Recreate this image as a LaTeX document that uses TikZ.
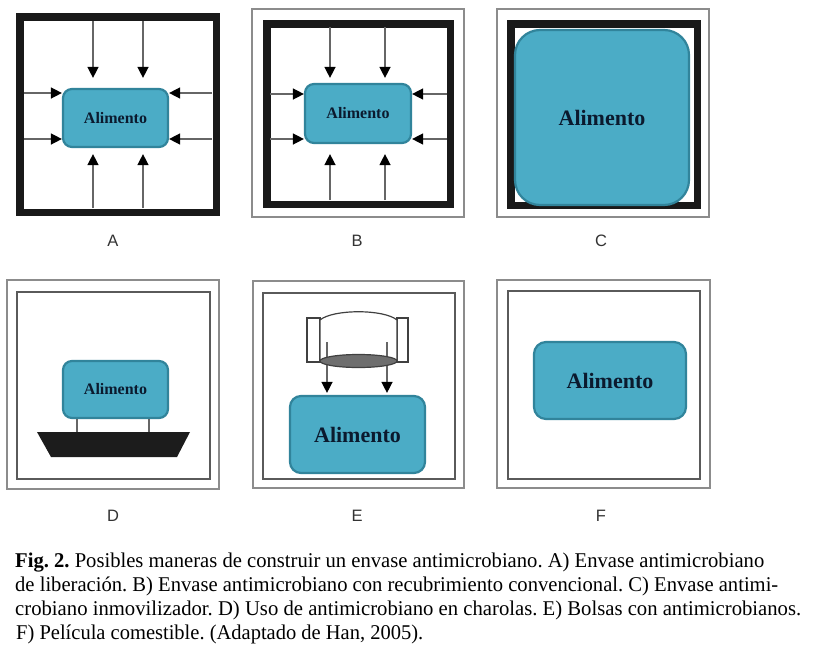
\documentclass[tikz,border=0pt]{standalone}
\usepackage{fontspec}
\setmainfont{Liberation Serif}
\newfontfamily\labelfont{Liberation Sans}
\usetikzlibrary{arrows.meta}
\definecolor{foodfill}{HTML}{4BACC6}
\definecolor{foodedge}{HTML}{31849B}
\definecolor{foodtext}{HTML}{0B1A2E}
\definecolor{outergray}{HTML}{8C8C8C}
\definecolor{innergray}{HTML}{5A5A5A}
\definecolor{traycol}{HTML}{1C1C1C}
\definecolor{arrgray}{HTML}{666666}
\definecolor{bagfill}{HTML}{6E6E6E}
\tikzset{
  foodbox/.style={draw=foodedge, fill=foodfill, line width=2.2pt, rounded corners=9pt,
    inner sep=0pt, text=foodtext, font=\bfseries\fontsize{16}{16}\selectfont},
  bigfood/.style={foodbox, font=\bfseries\fontsize{22}{22}\selectfont},
  thickframe/.style={draw=black!90, line width=7.5pt},
  outerframe/.style={draw=outergray, line width=1.6pt},
  innerframe/.style={draw=innergray, line width=1.6pt},
  arr/.style={draw=arrgray, line width=1.4pt, -{Triangle[length=11pt,width=11pt,black]}},
  panellabel/.style={font=\labelfont\fontsize{16.5}{16.5}\selectfont, text=black!80, inner sep=0pt},
  capline/.style={anchor=base west, inner sep=0pt, text=black},
  legline/.style={draw=arrgray, line width=1.4pt},
  bagline/.style={draw=black!75, line width=1.2pt},
}
\frenchspacing
\begin{document}
\begin{tikzpicture}[x=1pt,y=-1pt]
\useasboundingbox (0,0) rectangle (824,664);
\fill[white] (0,0) rectangle (824,664);

% ---------------- Panel A ----------------
\draw[thickframe] (19.75,16.75) rectangle (216.25,212.25);
\node[foodbox, minimum width=105pt, minimum height=58pt] (fa) at (115.5,118) {Alimento};
\coordinate (aT1) at (93,21);  \coordinate (aT2) at (143,21);
\coordinate (aB1) at (93,208); \coordinate (aB2) at (143,208);
\coordinate (aL1) at (24,93);  \coordinate (aL2) at (24,139);
\coordinate (aR1) at (212,93); \coordinate (aR2) at (212,139);
\draw[arr, shorten >=10pt] (aT1) -- (aT1 |- fa.north);
\draw[arr, shorten >=10pt] (aT2) -- (aT2 |- fa.north);
\draw[arr, shorten >=6pt] (aB1) -- (aB1 |- fa.south);
\draw[arr, shorten >=6pt] (aB2) -- (aB2 |- fa.south);
\draw[arr] (aL1) -- (aL1 -| fa.west);
\draw[arr] (aL2) -- (aL2 -| fa.west);
\draw[arr] (aR1) -- (aR1 -| fa.east);
\draw[arr] (aR2) -- (aR2 -| fa.east);
\node[panellabel] (la) at (113,241) {A};

% ---------------- Panel B ----------------
\draw[outerframe] (252,9) rectangle (464,217);
\draw[thickframe] (266.75,23.75) rectangle (450.25,204.25);
\node[foodbox, minimum width=106pt, minimum height=59pt] (fb) at (358,113.5) {Alimento};
\coordinate (bT1) at (330,27);  \coordinate (bT2) at (385,27);
\coordinate (bB1) at (330,200); \coordinate (bB2) at (385,200);
\coordinate (bL1) at (270,94);  \coordinate (bL2) at (270,139);
\coordinate (bR1) at (447,94);  \coordinate (bR2) at (447,139);
\draw[arr, shorten >=5pt] (bT1) -- (bT1 |- fb.north);
\draw[arr, shorten >=5pt] (bT2) -- (bT2 |- fb.north);
\draw[arr, shorten >=10pt] (bB1) -- (bB1 |- fb.south);
\draw[arr, shorten >=10pt] (bB2) -- (bB2 |- fb.south);
\draw[arr] (bL1) -- (bL1 -| fb.west);
\draw[arr] (bL2) -- (bL2 -| fb.west);
\draw[arr] (bR1) -- (bR1 -| fb.east);
\draw[arr] (bR2) -- (bR2 -| fb.east);
\node[panellabel] (lb) at (357,241) {B};

% ---------------- Panel C ----------------
\draw[outerframe] (497,9) rectangle (709,217);
\draw[thickframe] (510.75,23.75) rectangle (697.25,205.25);
\node[bigfood, rounded corners=25pt, minimum width=174pt, minimum height=175pt] (fc) at (602,117.5) {Alimento};
\node[panellabel] (lc) at (601,241) {C};

% ---------------- Panel D ----------------
\draw[outerframe] (7,280) rectangle (219,489);
\draw[innerframe] (17,292) rectangle (210,479);
\coordinate (dt1) at (37,432); \coordinate (dt2) at (190,432);
\coordinate (dt3) at (177,457); \coordinate (dt4) at (51,457);
\fill[traycol] (dt1) -- (dt2) -- (dt3) -- (dt4) -- cycle;
\node[foodbox, minimum width=105pt, minimum height=57pt] (fd) at (115.5,389.5) {Alimento};
\draw[legline] (fd.south -| 77,0) -- (77,432);
\draw[legline] (fd.south -| 149,0) -- (149,432);
\node[panellabel] (ld) at (113,516) {D};

% ---------------- Panel E ----------------
\draw[outerframe] (253,281) rectangle (464,488);
\draw[innerframe] (263,293) rectangle (455,479);
\node[bigfood, rounded corners=11pt, minimum width=135pt, minimum height=77pt] (fe) at (357.5,434.5) {Alimento};
\draw[bagline, fill=white] (307,318) rectangle (320,362);
\draw[bagline, fill=white] (397,318) rectangle (408,362);
\draw[bagline, fill=white] (320,361) -- (320,320) .. controls (333,309) and (384,309) .. (397,320) -- (397,361);
\coordinate (eA1) at (327,342); \coordinate (eA2) at (387,342);
\draw[arr, shorten >=2pt] (eA1) -- (eA1 |- fe.north);
\draw[arr, shorten >=2pt] (eA2) -- (eA2 |- fe.north);
\draw[bagline, fill=bagfill] (358.5,361) ellipse [x radius=38.5, y radius=6.5];
\node[panellabel] (le) at (357,516) {E};

% ---------------- Panel F ----------------
\draw[outerframe] (497,280) rectangle (710,488);
\draw[innerframe] (508,291) rectangle (700,479);
\node[bigfood, rounded corners=12pt, minimum width=152pt, minimum height=77pt] (ff) at (610,380.5) {Alimento};
\node[panellabel] (lf) at (601,516) {F};

% ---------------- Caption ----------------
\node[capline] (cap1) at (15,567) {\resizebox{749pt}{\height}{\fontsize{21}{21}\selectfont\textbf{Fig. 2.} Posibles maneras de construir un envase antimicrobiano. A) Envase antimicrobiano}};
\node[capline] (cap2) at (15,591) {\resizebox{763pt}{\height}{\fontsize{21}{21}\selectfont de liberación. B) Envase antimicrobiano con recubrimiento convencional. C) Envase antimi-}};
\node[capline] (cap3) at (15,615) {\resizebox{786pt}{\height}{\fontsize{21}{21}\selectfont crobiano inmovilizador. D) Uso de antimicrobiano en charolas. E) Bolsas con antimicrobianos.}};
\node[capline] (cap4) at (16,639) {\resizebox{407pt}{\height}{\fontsize{21}{21}\selectfont F) Película comestible. (Adaptado de Han, 2005).}};
\end{tikzpicture}
\end{document}
